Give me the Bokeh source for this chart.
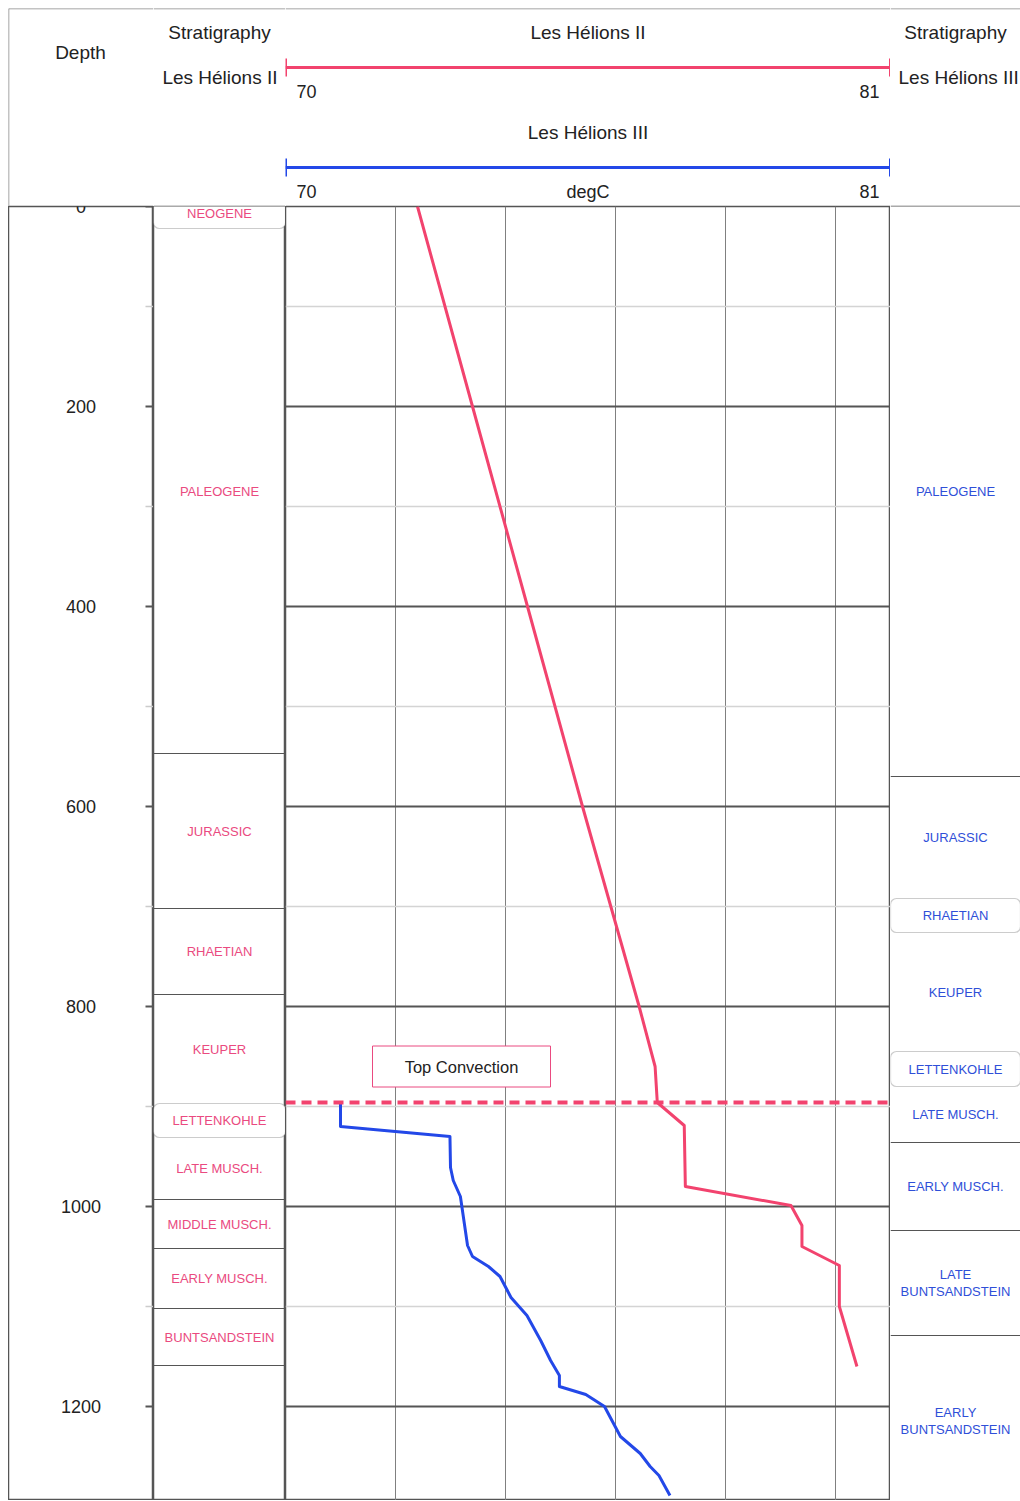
from bokeh.plotting import figure
from bokeh.layouts import row, column
from bokeh.models import Range1d, Span, BoxAnnotation, FixedTicker, Grid
from bokeh.embed import file_html
from bokeh.resources import INLINE
from bokeh.core.properties import value

# ---------------- data ----------------
depth_ticks = [0, 200, 400, 600, 800, 1000, 1200]
minor_depth_ticks = [100, 300, 500, 700, 900, 1100]
temp_ticks = [72, 74, 76, 78, 80]
temp_min, temp_max = 70, 81
depth_max = 1294
temp_unit = "degC"

well_ii = "Les Hélions II"
ii_depth = [0, 200, 400, 600, 800, 860, 896, 919, 980, 999, 1019, 1040, 1059, 1100, 1160]
ii_temp = [72.4, 73.4, 74.4, 75.4, 76.43, 76.72, 76.76, 77.25, 77.27, 79.19, 79.39, 79.39, 80.07, 80.07, 80.39]

well_iii = "Les Hélions III"
iii_depth = [896, 920, 930, 961, 974, 990, 1039, 1050, 1060, 1070, 1091, 1109, 1134, 1154,
             1169, 1180, 1188, 1200, 1230, 1247, 1260, 1269, 1289]
iii_temp = [71.0, 71.0, 72.99, 73.0, 73.05, 73.18, 73.31, 73.40, 73.69, 73.90, 74.10, 74.39, 74.64, 74.82,
            74.98, 74.98, 75.46, 75.80, 76.09, 76.45, 76.63, 76.79, 76.99]

left_names = ["NEOGENE", "PALEOGENE", "JURASSIC", "RHAETIAN", "KEUPER", "LETTENKOHLE",
              "LATE MUSCH.", "MIDDLE MUSCH.", "EARLY MUSCH.", "BUNTSANDSTEIN"]
left_top = [-8, 22, 547, 702, 788, 897, 931, 993, 1042, 1102]
left_base = [22, 547, 702, 788, 897, 931, 993, 1042, 1102, 1159]

right_names = ["PALEOGENE", "JURASSIC", "RHAETIAN", "KEUPER", "LETTENKOHLE", "LATE MUSCH.",
               "EARLY MUSCH.", "LATE\nBUNTSANDSTEIN", "EARLY\nBUNTSANDSTEIN"]
right_top = [0, 570, 692, 726, 845, 880, 936, 1024, 1129]
right_base = [570, 692, 726, 845, 880, 936, 1024, 1129, 1300]

convection_depth = 896
convection_label = "Top Convection"

# ---------------- style ----------------
FONT = value("Liberation Sans")
RED = "#f2436e"
PINK = "#ea4a80"
BLUE = "#2348e8"
BLUE_TXT = "#2f4fd8"
DARK = "#555555"
TXT = "#222222"

W_DEPTH, W_LS, W_T, W_RS = 145, 132, 605, 130
H_HEAD, H_TRACK = 198, depth_max


def mk(w, h, xr, yr):
    p = figure(width=w, height=h, x_range=xr, y_range=yr, output_backend="svg",
               toolbar_location=None, tools="", min_border=0,
               x_axis_location=None, y_axis_location=None)
    p.xgrid.visible = False
    p.ygrid.visible = False
    p.background_fill_color = "white"
    p.border_fill_color = "white"
    p.outline_line_color = None
    return p


def header(w, xr):
    p = mk(w, H_HEAD, xr, Range1d(H_HEAD, 0))
    p.add_layout(Span(location=0, dimension="width", line_color="#888888", line_width=1.5))
    p.add_layout(Span(location=H_HEAD, dimension="width", line_color=DARK, line_width=1.5))
    return p


def txt(p, x, y, s, size="19px", align="center", color=TXT, xoff=0):
    p.text(x=[x], y=[y], text=[s], text_font=FONT, text_font_size=size, text_color=color,
           text_align=align, text_baseline="middle", x_offset=xoff)


# ---------------- header ----------------
h0 = header(W_DEPTH, Range1d(0, W_DEPTH))
h0.add_layout(Span(location=0, dimension="height", line_color="#888888", line_width=1.5))
txt(h0, 72, 44, "Depth")

h1 = header(W_LS, Range1d(0, W_LS))
txt(h1, 66, 24, "Stratigraphy")
txt(h1, 124, 69, well_ii, align="right")

h2 = header(W_T, Range1d(temp_min, temp_max))
mid_t = (temp_min + temp_max) / 2
for color, yt, name, unit in [(RED, 0, well_ii, ""), (BLUE, 100, well_iii, temp_unit)]:
    txt(h2, mid_t, 24 + yt, name)
    h2.segment(x0=[temp_min], x1=[temp_max], y0=[59 + yt], y1=[59 + yt], line_color=color, line_width=3)
    h2.segment(x0=[temp_min, temp_max], x1=[temp_min, temp_max], y0=[50 + yt] * 2, y1=[68 + yt] * 2,
               line_color=color, line_width=3)
    txt(h2, temp_min, 83 + yt, str(temp_min), size="18px", align="left", xoff=11)
    txt(h2, temp_max, 83 + yt, str(temp_max), size="18px", align="right", xoff=-11)
    if unit:
        txt(h2, mid_t, 83 + yt, unit, size="18px")

h3 = header(W_RS, Range1d(0, W_RS))
txt(h3, 65, 24, "Stratigraphy")
txt(h3, 8, 69, well_iii, align="left")

# ---------------- tracks ----------------
yr = Range1d(depth_max, 0)

# depth track
t0 = mk(W_DEPTH, H_TRACK, Range1d(0, W_DEPTH), yr)
t0.outline_line_color = DARK
t0.outline_line_width = 1.5
t0.segment(x0=W_DEPTH - 8, x1=W_DEPTH, y0=depth_ticks, y1=depth_ticks, line_color=DARK, line_width=2)
t0.segment(x0=W_DEPTH - 8, x1=W_DEPTH, y0=minor_depth_ticks, y1=minor_depth_ticks,
           line_color="#cccccc", line_width=1.5)
t0.text(x=W_DEPTH / 2, y=depth_ticks, text=[str(d) for d in depth_ticks], text_font=FONT,
        text_font_size="18px", text_color=TXT, text_align="center", text_baseline="middle")


def strat(w, names, tops, bases, color):
    p = mk(w, H_TRACK, Range1d(0, 1), yr)
    rounded = [(b - t) < 40 for t, b in zip(tops, bases)]
    round_edges = set()
    for t, b, r in zip(tops, bases, rounded):
        if r:
            round_edges.update([t, b])
            p.add_layout(BoxAnnotation(left=0.0, right=1.0, top=t, bottom=b, border_radius=6,
                                       fill_color="white", fill_alpha=1, line_color=DARK,
                                       line_width=1.2, level="underlay"))
    edges = sorted(set(tops + bases) - round_edges)
    p.segment(x0=0, x1=1, y0=edges, y1=edges, line_color=DARK, line_width=1.2)
    mids = [(t + b) / 2 for t, b in zip(tops, bases)]
    p.text(x=0.5, y=mids, text=names, text_font=FONT, text_font_size="13px", text_color=color,
           text_align="center", text_baseline="middle", text_line_height=1.15)
    return p


t1 = strat(W_LS, left_names, left_top, left_base, PINK)
t1.outline_line_color = DARK
t1.outline_line_width = 1.5

# temperature track
t2 = mk(W_T, H_TRACK, Range1d(temp_min, temp_max), yr)
t2.outline_line_color = DARK
t2.outline_line_width = 1.5
t2.add_layout(Grid(dimension=0, ticker=FixedTicker(ticks=temp_ticks), grid_line_color="#808080",
                   grid_line_width=1))
t2.add_layout(Grid(dimension=1, ticker=FixedTicker(ticks=depth_ticks, minor_ticks=minor_depth_ticks),
                   grid_line_color=DARK, grid_line_width=2,
                   minor_grid_line_color="#d4d4d4", minor_grid_line_width=1.5))
t2.line(ii_temp, ii_depth, line_color=RED, line_width=3, line_join="round")
t2.line(iii_temp, iii_depth, line_color=BLUE, line_width=3, line_join="round")
t2.add_layout(Span(location=convection_depth, dimension="width", line_color=RED, line_width=4,
                   line_dash="10 6"))
conv_label_temp, conv_label_depth = 73.2, 860
t2.rect(x=[conv_label_temp], y=[conv_label_depth], width=178, height=41, width_units="screen",
        height_units="screen", fill_color="white", line_color=PINK, line_width=1)
t2.text(x=[conv_label_temp], y=[conv_label_depth], text=[convection_label], text_font=FONT,
        text_font_size="16.5px", text_color=TXT, text_align="center", text_baseline="middle")

t3 = strat(W_RS, right_names, right_top, right_base, BLUE_TXT)

layout = column(row(h0, h1, h2, h3), row(t0, t1, t2, t3), margin=(8, 0, 0, 8))

open("out.html", "w").write(file_html(layout, INLINE))
